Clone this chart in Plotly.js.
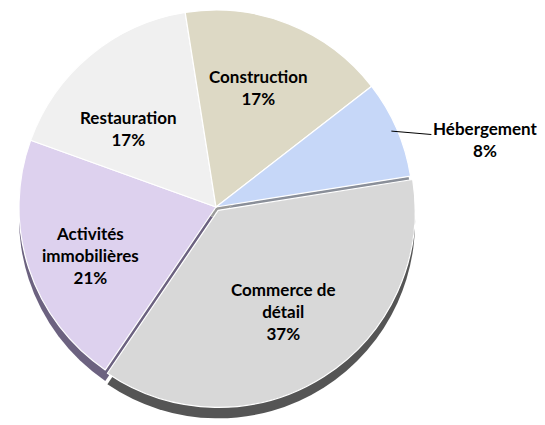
<!DOCTYPE html>
<html><head><meta charset="utf-8">
<script src="https://cdn.plot.ly/plotly-3.0.1.min.js"></script>
<style>html,body{margin:0;padding:0;background:#fff}#chart{width:545px;height:425px}</style>
</head><body><div id="chart"></div>
<script>
const categories = ["Commerce de détail", "Activités immobilières", "Restauration", "Construction", "Hébergement"];
const displayNames = ["Commerce de<br>détail", "Activités<br>immobilières", "Restauration", "Construction", "Hébergement"];
const shares = [37, 21, 17, 17, 8];
const sliceColors = ["#d8d8d8", "#ddd1ee", "#f0f0f0", "#ddd9c5", "#c6d7f8"];
const edgeColors = ["#555555", "#6c6280", "#9a9a9a", "#9a9a9a", "#8a8f99"];
const pulls = [0.02, 0, 0, 0, 0];
// label placement (style): radial fraction and small angular nudge from each slice's mid-angle; null = outside with leader
const labelRadius = [0.63, 0.685, 0.6, 0.645, null];
const labelNudgeDeg = [0, -3, -8.5, -2, 0];

const W = 545, H = 425;
const cx = 216, cy = 207, r = 197, drop = 11, rot = 81;
const maxPull = Math.max(...pulls);
function dom(cxp, cyp) {
  const rd = r * (1 + maxPull);
  return { x: [(cxp - rd) / W, (cxp + rd) / W], y: [(H - cyp - rd) / H, (H - cyp + rd) / H] };
}

const font = { family: "Lato, 'Open Sans', sans-serif", size: 17, color: "#000", weight: "bold" };

const shadow = {
  type: "pie", values: shares, labels: categories, sort: false,
  direction: "clockwise", rotation: rot, pull: pulls,
  marker: { colors: edgeColors, line: { width: 0 } },
  textinfo: "none", hoverinfo: "skip",
  domain: dom(cx, cy + drop), showlegend: false
};
const main = {
  type: "pie", values: shares, labels: categories, sort: false,
  direction: "clockwise", rotation: rot, pull: pulls,
  marker: { colors: sliceColors, line: { color: "#ffffff", width: 1.2 } },
  textinfo: "none",
  hoverinfo: "label+percent",
  domain: dom(cx, cy), showlegend: false
};

const total = shares.reduce((a, b) => a + b, 0);
let cum = 0;
const annotations = shares.map((v, i) => {
  const mid = (rot + 360 * (cum + v / 2) / total + labelNudgeDeg[i]) * Math.PI / 180;
  cum += v;
  const txt = displayNames[i] + "<br>" + v + "%";
  if (labelRadius[i] === null) {
    const px = cx + 0.97 * r * Math.sin(mid), py = cy - 0.97 * r * Math.cos(mid);
    return {
      xref: "paper", yref: "paper", x: px / W, y: 1 - py / H, text: txt, font: font,
      showarrow: true, arrowhead: 0, arrowwidth: 1, arrowcolor: "#000", ax: 94, ay: 8, standoff: 0
    };
  }
  const f = labelRadius[i];
  const px = cx + f * r * Math.sin(mid), py = cy - f * r * Math.cos(mid);
  return {
    xref: "paper", yref: "paper", x: px / W, y: 1 - py / H, xanchor: "center", yanchor: "middle",
    text: txt, font: font, showarrow: false
  };
});

Plotly.newPlot("chart", [shadow, main], {
  width: W, height: H,
  margin: { l: 0, r: 0, t: 0, b: 0 },
  paper_bgcolor: "#ffffff",
  showlegend: false,
  annotations: annotations
}, { displayModeBar: false, staticPlot: true });
</script></body></html>
